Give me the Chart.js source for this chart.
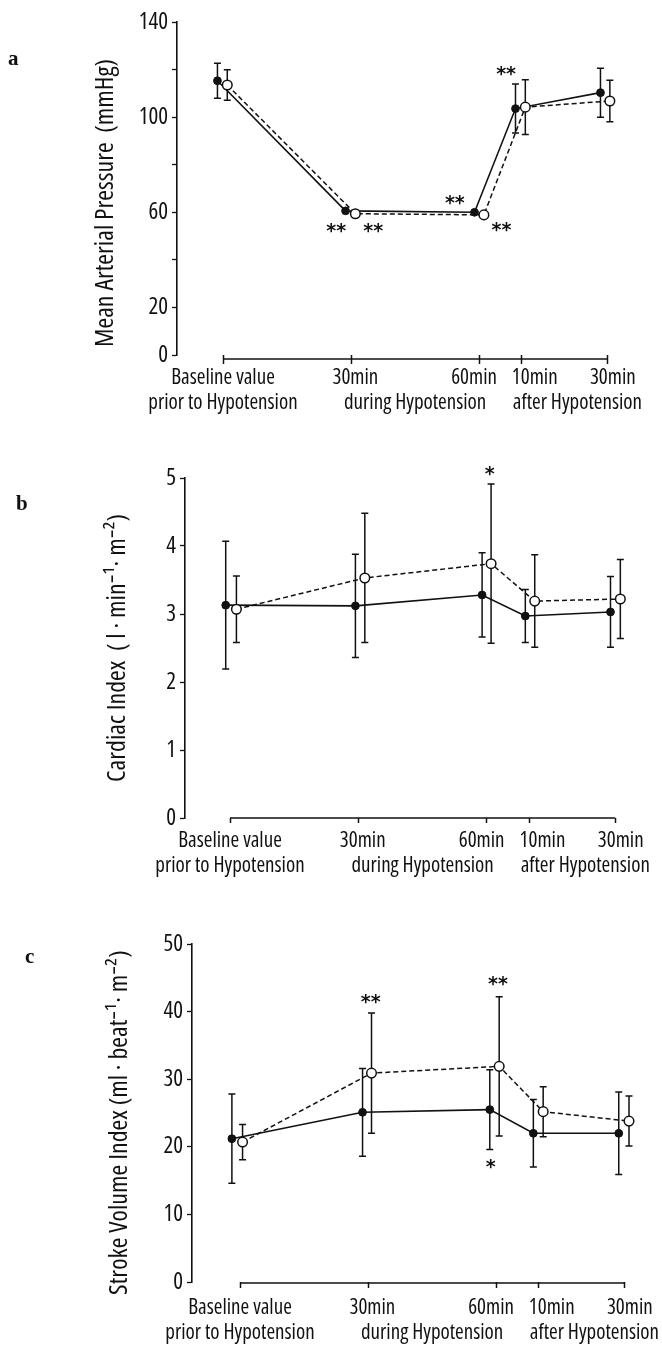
<!DOCTYPE html>
<html>
<head>
<meta charset="utf-8">
<script src="https://cdn.jsdelivr.net/npm/chart.js@4.4.1/dist/chart.umd.min.js"></script>
<style>
  html, body { margin: 0; padding: 0; background: #fff; }
  #page { position: relative; width: 662px; height: 1351px; overflow: hidden; }
  canvas { position: absolute; left: 0; }
  .tag { position: absolute; font: bold 21px 'Liberation Serif', 'DejaVu Serif', serif; color: #111; line-height: 24px; }
</style>
</head>
<body>
<div id="page">
  <canvas id="chartA" width="662" height="440" style="top:0px"></canvas>
  <canvas id="chartB" width="662" height="460" style="top:440px"></canvas>
  <canvas id="chartC" width="662" height="451" style="top:900px"></canvas>
  <div class="tag" style="left:8px; top:46px">a</div>
  <div class="tag" style="left:16px; top:491px">b</div>
  <div class="tag" style="left:25px; top:944px">c</div>
</div>
<script>
// time line shared by the three panels (minutes)
const xTickMarks = [0, 30, 60, 70, 90];
const xLabelPos = [0, 31, 58.8, 73, 91.3];
const xLabels = [['Baseline value', 'prior to Hypotension'], '30min', '60min', '10min', '30min'];
const xGroupPos = [45, 83];
const xGroupLabels = ['during Hypotension', 'after Hypotension'];

// a: Mean Arterial Pressure
const mapXFilled = [-1.3, 28.7, 58.9, 68.5, 88.4];
const mapFilled = [115.3, 60.6, 60.0, 103.6, 110.3];
const mapFilledSD = [7.4, 0, 0, 10.3, 10.3];
const mapXOpen = [1.0, 31.0, 61.1, 70.8, 90.6];
const mapOpen = [113.5, 59.4, 58.9, 104.2, 106.8];
const mapOpenSD = [6.4, 0, 0, 11.5, 8.7];
const mapStarX = [26.5, 35.2, 54.3, 65.2, 66.3];
const mapStarY = [53.2, 53.2, 65, 53.9, 119.2];
const mapStars = ['**', '**', '**', '**', '**'];
const mapTicks = [0, 20, 40, 60, 80, 100, 120, 140];
const mapTickLabels = ['0', '20', '', '60', '', '100', '', '140'];

// b: Cardiac Index
const ciXFilled = [-1.0, 29.3, 58.9, 69.0, 88.9];
const ciFilled = [3.13, 3.12, 3.28, 2.97, 3.03];
const ciFilledSD = [0.94, 0.76, 0.62, 0.39, 0.52];
const ciXOpen = [1.5, 31.5, 61.0, 71.2, 91.2];
const ciOpen = [3.07, 3.53, 3.74, 3.19, 3.22];
const ciOpenSD = [0.49, 0.95, 1.17, 0.68, 0.58];
const ciStarX = [60.7];
const ciStarY = [5.11];
const ciStars = ['*'];
const ciTicks = [0, 1, 2, 3, 4, 5];
const ciTickLabels = ['0', '1', '2', '3', '4', '5'];

// c: Stroke Volume Index
const sviXFilled = [-1.9, 28.7, 58.5, 68.7, 88.7];
const sviFilled = [21.2, 25.1, 25.5, 22.0, 22.0];
const sviFilledSD = [6.6, 6.5, 5.9, 5.0, 6.1];
const sviXOpen = [0.6, 30.8, 60.7, 71.0, 91.1];
const sviOpen = [20.7, 30.9, 31.9, 25.2, 23.8];
const sviOpenSD = [2.6, 8.9, 10.3, 3.7, 3.7];
const sviStarX = [30.6, 60.4, 58.7];
const sviStarY = [41.8, 44.5, 17.4];
const sviStars = ['**', '**', '*'];
const sviTicks = [0, 10, 20, 30, 40, 50];
const sviTickLabels = ['0', '10', '20', '30', '40', '50'];

const INK = '#111';
const FONT = "'Open Sans', Roboto, sans-serif";
// narrow face: font-stretch rides along in the weight slot of the font string
const NARROW = 'condensed';

// vertical SD bars with small caps, under the markers
const errorBars = {
  id: 'errorBars',
  beforeDatasetsDraw(chart) {
    const {ctx, scales: {x, y}} = chart;
    ctx.save();
    ctx.strokeStyle = INK;
    ctx.lineWidth = 1.5;
    chart.data.datasets.forEach(ds => {
      (ds.sd || []).forEach((s, i) => {
        if (!s) return;
        const p = ds.data[i];
        const px = x.getPixelForValue(p.x);
        const top = y.getPixelForValue(p.y + s);
        const bot = y.getPixelForValue(p.y - s);
        ctx.beginPath();
        ctx.moveTo(px, top); ctx.lineTo(px, bot);
        ctx.moveTo(px - 3.5, top); ctx.lineTo(px + 3.5, top);
        ctx.moveTo(px - 3.5, bot); ctx.lineTo(px + 3.5, bot);
        ctx.stroke();
      });
    });
    ctx.restore();
  }
};

// the time axis only runs from the first to the last time point
const timeAxis = {
  id: 'timeAxis',
  afterDraw(chart, args, opts) {
    const {ctx, scales: {x}, chartArea} = chart;
    const yy = chartArea.bottom + opts.drop;
    ctx.save();
    ctx.strokeStyle = INK;
    ctx.lineWidth = 1.6;
    ctx.beginPath();
    ctx.moveTo(x.getPixelForValue(xTickMarks[0]), yy);
    ctx.lineTo(x.getPixelForValue(xTickMarks[xTickMarks.length - 1]), yy);
    ctx.stroke();
    ctx.restore();
  }
};

// significance asterisks
const stars = {
  id: 'stars',
  afterDatasetsDraw(chart, args, opts) {
    const {ctx, scales: {x, y}} = chart;
    ctx.save();
    ctx.fillStyle = INK;
    ctx.font = "bold 19px 'DejaVu Sans', sans-serif";
    ctx.textAlign = 'center';
    ctx.textBaseline = 'alphabetic';
    opts.text.forEach((t, i) => {
      const m = ctx.measureText(t);
      const dy = (m.actualBoundingBoxAscent - m.actualBoundingBoxDescent) / 2;
      ctx.fillText(t, x.getPixelForValue(opts.x[i]), y.getPixelForValue(opts.y[i]) + dy);
    });
    ctx.restore();
  }
};

function makePanel(id, p) {
  const canvas = document.getElementById(id);
  const W = canvas.width, H = canvas.height;
  const xMin = (p.left - p.x0) / p.ppm;
  const xMax = 95;
  const right = p.left + (xMax - xMin) * p.ppm;
  const titleSize = 26;

  return new Chart(canvas, {
    type: 'line',
    data: {
      datasets: [
        {
          label: 'open',
          data: p.xOpen.map((v, i) => ({x: v, y: p.open[i]})),
          sd: p.openSD,
          borderColor: INK,
          borderWidth: 1.5,
          borderDash: [5, 3],
          pointRadius: 4.8,
          pointBackgroundColor: '#fff',
          pointBorderColor: INK,
          pointBorderWidth: 1.5,
          order: 0
        },
        {
          label: 'filled',
          data: p.xFilled.map((v, i) => ({x: v, y: p.filled[i]})),
          sd: p.filledSD,
          borderColor: INK,
          borderWidth: 1.6,
          pointRadius: 3.9,
          pointBackgroundColor: INK,
          pointBorderColor: INK,
          pointBorderWidth: 1,
          order: 1
        }
      ]
    },
    options: {
      responsive: false,
      animation: false,
      clip: false,
      layout: {padding: {top: p.top, left: 0, right: W - right, bottom: 0}},
      plugins: {
        legend: {display: false},
        tooltip: {enabled: false},
        timeAxis: {drop: p.drop},
        stars: {x: p.starX, y: p.starY, text: p.stars}
      },
      scales: {
        x: {
          type: 'linear',
          min: xMin,
          max: xMax,
          border: {display: false},
          grid: {
            drawOnChartArea: false,
            tickLength: 5 + p.drop,
            tickWidth: 1.5,
            tickColor: c => (c.tick && c.tick.mark) ? INK : 'rgba(0,0,0,0)'
          },
          ticks: {
            autoSkip: false,
            maxRotation: 0,
            padding: p.labelPad,
            color: INK,
            font: {family: FONT, weight: NARROW, size: 21, lineHeight: 1.22},
            callback: (v, i, t) => t[i].text || ''
          },
          afterBuildTicks: s => {
            const t = [];
            xTickMarks.forEach(v => t.push({value: v, mark: true}));
            xLabelPos.forEach((v, i) => t.push({value: v, text: xLabels[i]}));
            xGroupPos.forEach((v, i) => t.push({value: v, text: ['', xGroupLabels[i]]}));
            s.ticks = t;
          },
          afterFit: s => {
            s.height = H - p.bottom;
            s.paddingLeft = 0;
            s.paddingRight = 0;
          }
        },
        y: {
          min: p.yTicks[0],
          max: p.yTicks[p.yTicks.length - 1],
          border: {display: true, color: INK, width: 1.6},
          grid: {drawOnChartArea: false, tickLength: 5, tickWidth: 1.3, tickColor: INK},
          ticks: {
            padding: 4,
            color: INK,
            font: {family: FONT, weight: NARROW, size: 23},
            callback: (v, i) => p.yLabels[i]
          },
          afterBuildTicks: s => { s.ticks = p.yTicks.map(v => ({value: v})); },
          title: {
            display: true,
            // trailing spaces nudge the rotated title down along the axis
            text: p.title + ' '.repeat(p.titleNudge),
            color: INK,
            font: {family: FONT, weight: NARROW, size: titleSize},
            padding: {top: p.titleX - titleSize * 0.6, bottom: 0}
          },
          afterFit: s => {
            s.width = p.left;
            s.paddingTop = 0;
            s.paddingBottom = 0;
          }
        }
      }
    },
    plugins: [errorBars, timeAxis, stars]
  });
}

makePanel('chartA', {
  left: 177, top: 22, bottom: 355, x0: 223, ppm: 4.27, drop: 4, labelPad: 1, titleX: 106, titleNudge: 6,
  title: 'Mean Arterial Pressure  (mmHg)',
  xFilled: mapXFilled, filled: mapFilled, filledSD: mapFilledSD,
  xOpen: mapXOpen, open: mapOpen, openSD: mapOpenSD,
  starX: mapStarX, starY: mapStarY, stars: mapStars,
  yTicks: mapTicks, yLabels: mapTickLabels
});

makePanel('chartB', {
  left: 185, top: 38, bottom: 378, x0: 230, ppm: 4.28, drop: 0, labelPad: 5, titleX: 118, titleNudge: 0,
  title: 'Cardiac Index  ( l · min\u207B\u00B9· m\u207B\u00B2)',
  xFilled: ciXFilled, filled: ciFilled, filledSD: ciFilledSD,
  xOpen: ciXOpen, open: ciOpen, openSD: ciOpenSD,
  starX: ciStarX, starY: ciStarY, stars: ciStars,
  yTicks: ciTicks, yLabels: ciTickLabels
});

makePanel('chartC', {
  left: 192, top: 44, bottom: 382, x0: 240, ppm: 4.27, drop: 1, labelPad: 7, titleX: 120, titleNudge: 4,
  title: 'Stroke Volume Index (ml · beat\u207B\u00B9· m\u207B\u00B2)',
  xFilled: sviXFilled, filled: sviFilled, filledSD: sviFilledSD,
  xOpen: sviXOpen, open: sviOpen, openSD: sviOpenSD,
  starX: sviStarX, starY: sviStarY, stars: sviStars,
  yTicks: sviTicks, yLabels: sviTickLabels
});
</script>
</body>
</html>
